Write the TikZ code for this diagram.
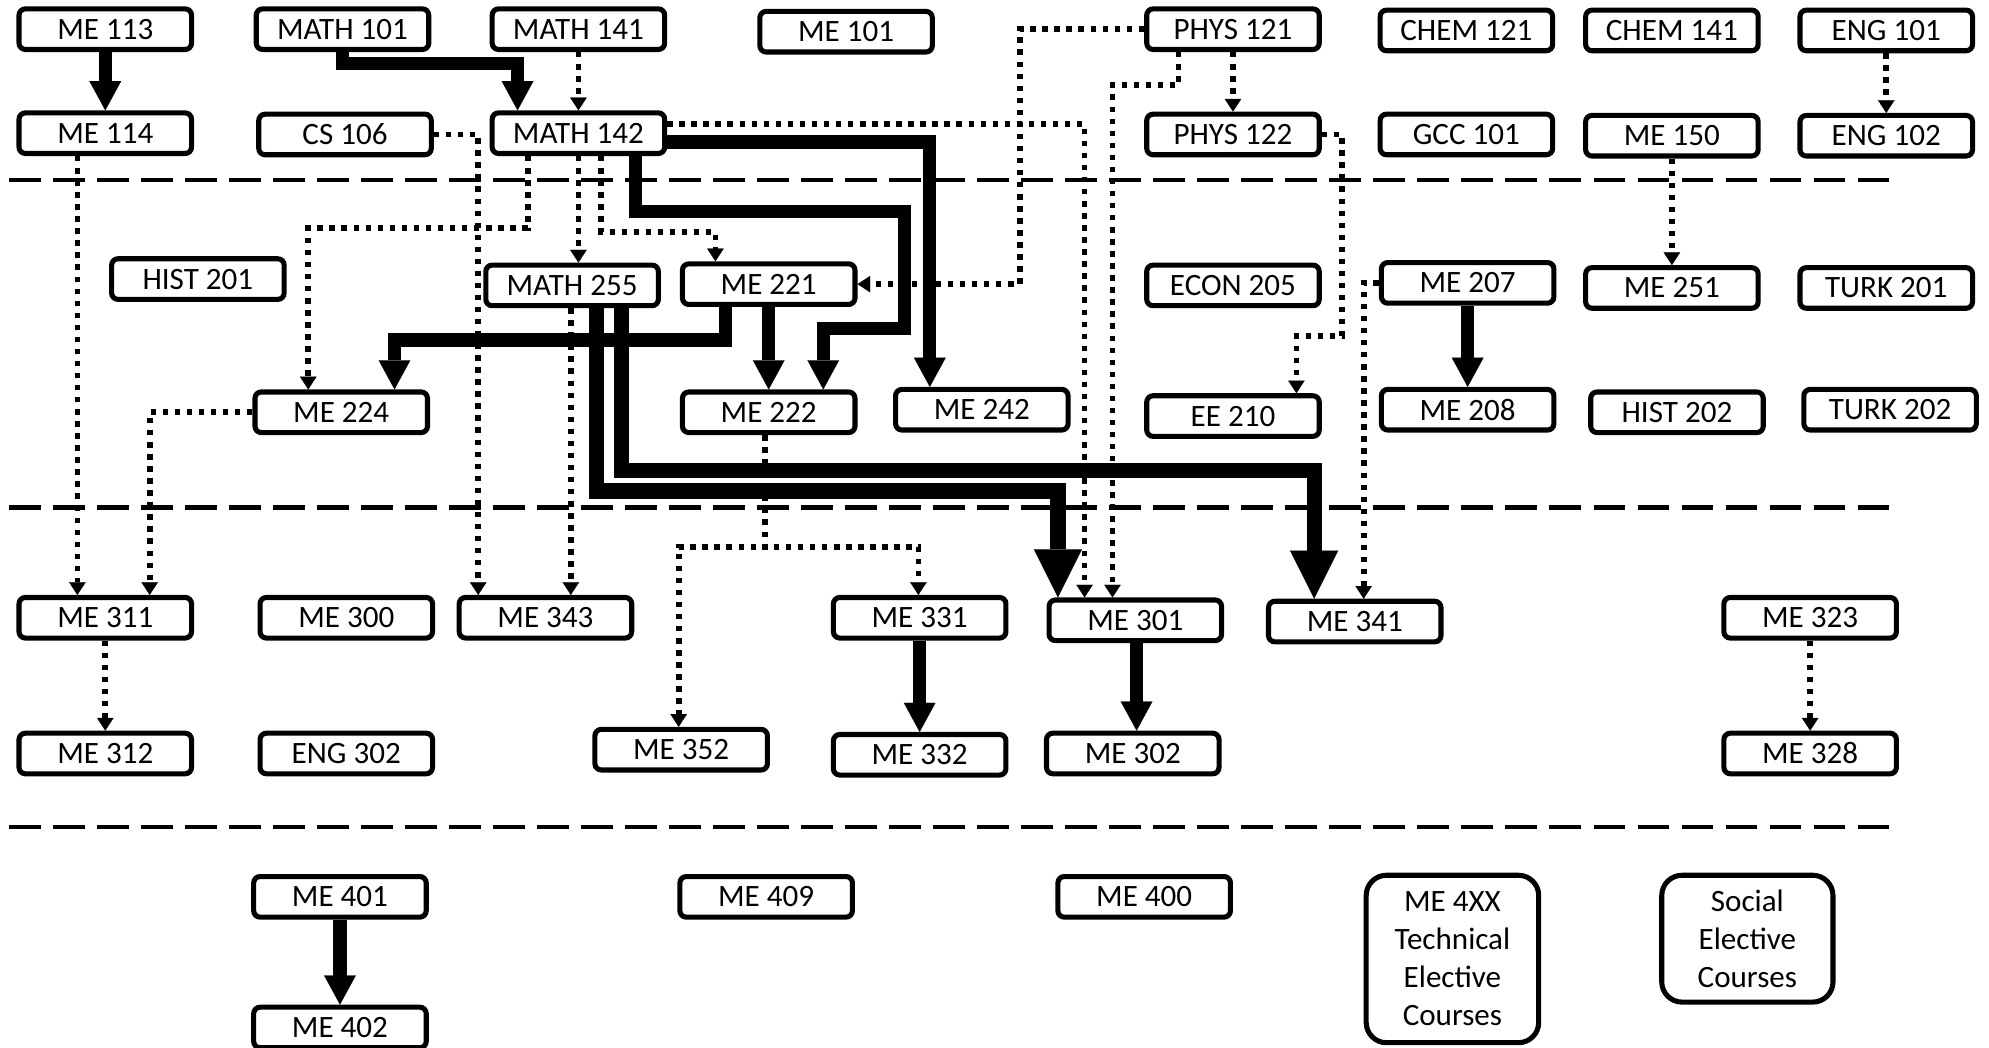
\documentclass[tikz,border=0pt]{standalone}
\usepackage{fontspec}
\setmainfont{Carlito}
\usetikzlibrary{arrows.meta}
\tikzset{
  course/.style={draw, line width=4pt, rounded corners=5pt, fill=white,
    minimum width=136pt, minimum height=32pt, inner sep=0pt,
    font=\fontsize{24.5}{29}\selectfont},
  bigcourse/.style={course, rounded corners=16pt, align=center,
    font=\fontsize{24.5}{30}\selectfont},
  thk/.style={line width=10.5pt, -{Triangle[length=23pt,width=25pt,line width=0.1pt]}},
  bigthk/.style={line width=12pt, -{Triangle[length=38pt,width=38pt,line width=0.1pt]}},
  dotarr/.style={line width=4.5pt, dash pattern=on 4.3pt off 5.2pt,
    -{Triangle[length=10pt,width=13pt,line width=0.1pt]}},
  sep/.style={line width=3.5pt, dash pattern=on 25pt off 9.7pt},
}
\begin{document}
\begin{tikzpicture}[x=1pt,y=-1pt]
\useasboundingbox (0,0) rectangle (1568,826);
% separators
\draw[sep] (7,142) -- (1489,142);
\draw[sep] (7,400) -- (1489,400);
\draw[sep] (7,652) -- (1489,652);
% row 1
\node[course] (me113) at (83,23) {ME 113};
\node[course] (m101) at (270,23) {MATH 101};
\node[course] (m141) at (456,23) {MATH 141};
\node[course] (me101) at (667,25) {ME 101};
\node[course] (p121) at (972,23) {PHYS 121};
\node[course] (c121) at (1156,24) {CHEM 121};
\node[course] (c141) at (1318,24) {CHEM 141};
\node[course] (e101) at (1487,24) {ENG 101};
% row 2
\node[course] (me114) at (83,105) {ME 114};
\node[course] (cs106) at (272,106) {CS 106};
\node[course] (m142) at (456,105) {MATH 142};
\node[course] (p122) at (972,106) {PHYS 122};
\node[course] (gcc101) at (1156,106) {GCC 101};
\node[course] (me150) at (1318,107) {ME 150};
\node[course] (e102) at (1487,107) {ENG 102};
% row 3
\node[course] (h201) at (156,220) {HIST 201};
\node[course] (m255) at (451,225) {MATH 255};
\node[course] (me221) at (606,224) {ME 221};
\node[course] (econ205) at (972,225) {ECON 205};
\node[course] (me207) at (1157,223) {ME 207};
\node[course] (me251) at (1318,227) {ME 251};
\node[course] (t201) at (1487,227) {TURK 201};
% row 4
\node[course] (me224) at (269,325) {ME 224};
\node[course] (me222) at (606,325) {ME 222};
\node[course] (me242) at (774,323) {ME 242};
\node[course] (ee210) at (972,328) {EE 210};
\node[course] (me208) at (1157,323) {ME 208};
\node[course] (h202) at (1322,325) {HIST 202};
\node[course] (t202) at (1490,323) {TURK 202};
% row 5
\node[course] (me311) at (83,487) {ME 311};
\node[course] (me300) at (273,487) {ME 300};
\node[course] (me343) at (430,487) {ME 343};
\node[course] (me331) at (725,487) {ME 331};
\node[course] (me301) at (895,489) {ME 301};
\node[course] (me341) at (1068,490) {ME 341};
\node[course] (me323) at (1427,487) {ME 323};
% row 6
\node[course] (me312) at (83,594) {ME 312};
\node[course] (eng302) at (273,594) {ENG 302};
\node[course] (me352) at (537,591) {ME 352};
\node[course] (me332) at (725,595) {ME 332};
\node[course] (me302) at (893,594) {ME 302};
\node[course] (me328) at (1427,594) {ME 328};
% row 7
\node[course] (me401) at (268,707) {ME 401};
\node[course] (me402) at (268,810) {ME 402};
\node[course] (me409) at (604,707) {ME 409};
\node[course] (me400) at (902,707) {ME 400};
\node[bigcourse, minimum height=132pt] (me4xx) at (1145,756) {ME 4XX\\Technical\\Elective\\Courses};
\node[bigcourse, minimum width=135pt, minimum height=100pt] (social) at (1377.5,740) {Social\\Elective\\Courses};
% thick connectors
\draw[thk] (me113.south) -- (me114.north);
\draw[thk] (270,0 |- m101.south) |- (408,50) -- (408,0 |- m142.north);
\draw[thk] ([yshift=-7pt]m142.east) -| (733,0 |- me242.north);
\draw[thk] (501,0 |- m142.south) |- (713,167) |- (649,259) -- (649,0 |- me222.north);
\draw[thk] (me221.south) -- (me222.north);
\draw[thk] (572,0 |- me221.south) |- (311,268) -- (311,0 |- me224.north);
\draw[bigthk] (470,0 |- m255.south) |- (834,387) -- (834,0 |- me301.north);
\draw[bigthk] (490,0 |- m255.south) |- (1036,371) -- (1036,0 |- me341.north);
\draw[thk] (me207.south) -- (me208.north);
\draw[thk] (me331.south) -- (me332.north);
\draw[thk] (896,0 |- me301.south) -- (896,0 |- me302.north);
\draw[thk] (me401.south) -- (me402.north);
% dotted connectors
\draw[dotarr] (m141.south) -- (m142.north);
\draw[dotarr] (cs106.east) -| (377,0 |- me343.north);
\draw[dotarr] ([xshift=-22pt]me114.south) -- ([xshift=-22pt]me311.north);
\draw[dotarr] (me224.west) -| (118,0 |- me311.north);
\draw[dotarr] (416,0 |- m142.south) |- (243,180) -- (243,0 |- me224.north);
\draw[dotarr] (m142.south) -- (m142.south |- m255.north);
\draw[dotarr] (474,0 |- m142.south) |- (564,183) -- (564,0 |- me221.north);
\draw[dotarr] (450,0 |- m255.south) -- (450,0 |- me343.north);
\draw[dotarr] ([yshift=7pt]m142.east) -| (855,0 |- me301.north);
\draw[dotarr] (p121.west) -| (804,224) -- (me221.east);
\draw[dotarr] (929,0 |- p121.south) |- (877,67) -- (877,0 |- me301.north);
\draw[dotarr] (p121.south) -- (p122.north);
\draw[dotarr] (p122.east) -| (1058,265) -| (1022,0 |- ee210.north);
\draw[dotarr] (me207.west) -| (1075,0 |- me341.north);
\draw[dotarr] (me150.south) -- (me251.north);
\draw[dotarr] (e101.south) -- (e102.north);
\draw[dotarr] (603,0 |- me222.south) |- (535,431) -- (535,0 |- me352.north);
\draw[dotarr] (603,0 |- me222.south) |- (724,431) -- (724,0 |- me331.north);
\draw[dotarr] (me311.south) -- (me312.north);
\draw[dotarr] (me323.south) -- (me328.north);
\end{tikzpicture}
\end{document}
